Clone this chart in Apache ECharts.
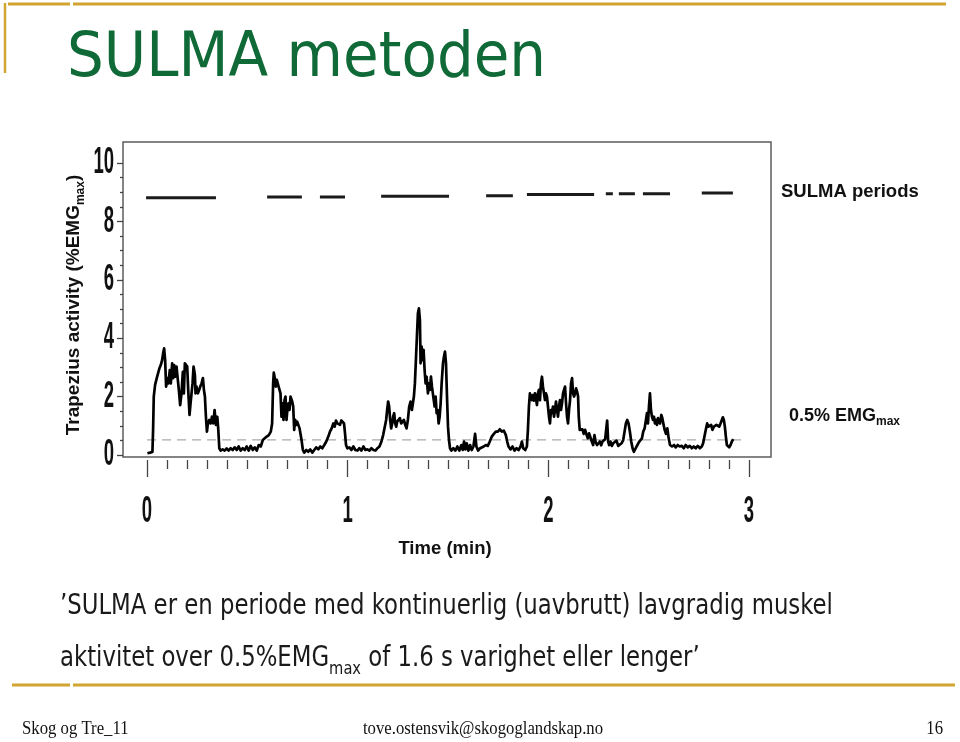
<!DOCTYPE html>
<html><head><meta charset="utf-8">
<script src="https://cdn.jsdelivr.net/npm/echarts@6/dist/echarts.min.js"></script>
<style>html,body{margin:0;padding:0;background:#fff;}#c{width:960px;height:742px;}</style>
</head><body><div id="c"></div>
<script>
// Trapezius activity trace: [time (s), activity (%EMGmax)]
const traceSamples = [
[0.1,0.06],[0.9,0.08],[1.6,0.10],[1.8,0.86],[2.0,2.00],[2.4,2.40],[2.9,2.63],[3.3,2.80],[3.7,2.97],[4.1,3.08],
[4.5,3.25],[4.8,3.48],[5.1,3.65],[5.4,3.25],[5.7,2.34],[6.0,2.63],[6.4,2.45],[6.8,2.91],[7.1,2.45],[7.5,3.14],
[7.8,2.63],[8.1,3.08],[8.5,2.68],[8.8,3.03],[9.1,2.68],[9.5,2.23],[9.9,1.71],[10.3,2.11],[10.7,2.85],[11.0,2.11],
[11.3,3.14],[11.7,3.20],[12.0,3.03],[12.3,2.23],[12.7,1.37],[13.0,1.77],[13.3,2.11],[13.6,2.45],[13.9,3.03],[14.3,2.74],
[14.5,2.11],[14.8,2.34],[15.2,2.11],[15.6,2.23],[15.9,2.34],[16.3,2.45],[16.7,2.63],[17.0,2.23],[17.3,2.00],[17.6,1.31],
[17.9,0.80],[18.2,1.08],[18.6,1.20],[19.0,1.08],[19.4,1.31],[19.8,1.08],[20.2,1.54],[20.6,1.03],[21.0,1.31],[21.3,0.86],
[21.6,0.23],[22.0,0.15],[22.6,0.19],[23.2,0.15],[23.8,0.22],[24.4,0.15],[25.0,0.23],[25.6,0.17],[26.2,0.26],[26.8,0.17],
[27.4,0.29],[28.0,0.15],[28.6,0.23],[29.2,0.17],[29.8,0.29],[30.4,0.15],[31.0,0.31],[31.6,0.17],[32.2,0.26],[32.8,0.15],
[33.4,0.34],[34.0,0.29],[34.6,0.51],[35.2,0.57],[35.8,0.63],[36.4,0.68],[37.0,0.80],[37.4,1.08],[37.7,2.45],[37.9,2.82],
[38.2,2.63],[38.5,2.34],[38.8,2.57],[39.2,2.40],[39.6,2.45],[39.9,2.11],[40.2,1.31],[40.5,1.77],[40.8,1.20],[41.1,1.88],
[41.4,2.00],[41.7,1.20],[42.0,1.60],[42.3,1.77],[42.6,1.54],[42.9,2.00],[43.1,2.05],[43.4,1.83],[43.7,1.66],[44.0,0.86],
[44.3,1.20],[44.6,1.03],[44.9,1.14],[45.3,1.20],[45.6,0.91],[45.9,0.97],[46.2,0.51],[46.6,0.17],[47.0,0.08],[47.6,0.17],
[48.2,0.11],[48.8,0.19],[49.4,0.08],[50.0,0.17],[50.6,0.26],[51.2,0.19],[51.8,0.29],[52.4,0.23],[53.0,0.34],[53.6,0.46],
[54.2,0.63],[54.7,0.80],[55.2,0.91],[55.7,1.08],[56.1,0.97],[56.5,1.18],[56.9,1.08],[57.3,1.14],[57.7,1.03],[58.1,1.18],
[58.5,1.22],[58.9,1.08],[59.2,0.74],[59.5,0.34],[59.9,0.23],[60.5,0.26],[61.1,0.17],[61.7,0.29],[62.3,0.17],[62.9,0.15],
[63.5,0.23],[64.1,0.15],[64.7,0.29],[65.3,0.17],[65.9,0.19],[66.5,0.15],[67.1,0.23],[67.7,0.17],[68.3,0.15],[68.9,0.23],
[69.5,0.29],[70.1,0.46],[70.6,0.68],[71.1,0.97],[71.5,1.20],[71.8,1.54],[72.1,1.83],[72.4,1.66],[72.7,1.20],[73.0,0.91],
[73.3,1.08],[73.6,1.31],[73.9,1.43],[74.2,1.08],[74.5,0.97],[74.8,1.14],[75.2,1.08],[75.6,1.26],[76.0,1.08],[76.4,1.14],
[76.8,1.20],[77.2,1.03],[77.6,0.91],[78.0,1.20],[78.4,1.66],[78.8,1.83],[79.2,1.54],[79.5,1.77],[79.8,2.00],[80.1,2.45],
[80.4,3.25],[80.7,4.05],[81.0,4.85],[81.3,5.02],[81.6,4.62],[81.8,3.14],[82.1,3.71],[82.4,3.25],[82.7,3.60],[83.0,2.91],
[83.3,2.45],[83.6,2.68],[84.0,2.11],[84.3,2.45],[84.6,2.23],[84.9,2.68],[85.2,2.34],[85.6,2.00],[86.0,1.66],[86.3,2.00],
[86.6,1.43],[86.9,1.54],[87.2,1.08],[87.5,1.31],[87.8,1.77],[88.1,2.45],[88.5,3.14],[88.8,3.37],[89.1,3.54],[89.4,3.14],
[89.7,2.00],[90.0,0.97],[90.3,0.51],[90.6,0.23],[91.0,0.15],[91.6,0.23],[92.2,0.15],[92.8,0.29],[93.4,0.15],[94.0,0.34],
[94.4,0.17],[94.8,0.46],[95.2,0.19],[95.6,0.40],[96.1,0.15],[96.6,0.34],[97.1,0.17],[97.6,0.29],[98.1,0.72],[98.5,0.29],
[99.0,0.15],[99.6,0.23],[100.1,0.19],[100.7,0.29],[101.3,0.34],[101.9,0.31],[102.5,0.46],[103.1,0.63],[103.7,0.72],[104.3,0.80],
[104.9,0.80],[105.5,0.88],[106.1,0.80],[106.7,0.83],[107.3,0.68],[107.7,0.46],[108.1,0.29],[108.7,0.19],[109.3,0.29],[109.9,0.15],
[110.5,0.23],[111.1,0.17],[111.7,0.29],[112.1,0.46],[112.5,0.23],[113.1,0.17],[113.6,0.29],[113.9,0.86],[114.2,1.66],[114.5,2.11],
[114.8,2.00],[115.1,1.88],[115.4,2.05],[115.7,1.86],[116.0,2.11],[116.3,1.94],[116.6,1.71],[116.9,2.11],[117.2,2.23],[117.5,1.88],
[117.8,2.45],[118.1,2.68],[118.4,2.34],[118.7,2.11],[119.0,1.88],[119.3,2.11],[119.6,2.00],[119.9,1.66],[120.2,1.31],[120.5,1.08],
[120.8,1.54],[121.1,1.43],[121.4,1.66],[121.7,1.31],[122.0,1.54],[122.3,1.83],[122.6,1.54],[122.9,1.31],[123.2,1.66],[123.5,1.88],
[123.8,1.54],[124.1,1.77],[124.4,2.11],[124.7,2.23],[125.0,2.34],[125.3,1.77],[125.6,1.31],[125.9,1.08],[126.2,1.54],[126.5,1.88],
[126.8,2.45],[127.1,2.63],[127.4,2.11],[127.7,2.00],[128.0,2.11],[128.3,2.28],[128.6,2.17],[128.9,2.00],[129.1,1.31],[129.4,0.86],
[129.8,0.80],[130.2,0.88],[130.6,0.72],[131.0,0.86],[131.4,0.80],[131.8,0.57],[132.2,0.74],[132.6,0.68],[133.0,0.46],[133.4,0.34],
[133.8,0.68],[134.2,0.42],[134.6,0.34],[135.0,0.31],[135.4,0.46],[135.8,0.33],[136.2,0.46],[136.6,0.40],[137.0,0.54],[137.3,0.86],
[137.6,1.18],[137.9,0.46],[138.2,0.34],[138.6,0.46],[139.0,0.31],[139.4,0.40],[139.9,0.34],[140.4,0.49],[140.9,0.31],[141.4,0.29],
[141.9,0.40],[142.4,0.51],[142.8,0.80],[143.2,1.08],[143.6,1.20],[144.0,1.08],[144.4,0.80],[144.8,0.46],[145.2,0.23],[145.6,0.11],
[146.0,0.17],[146.4,0.29],[146.8,0.34],[147.2,0.46],[147.6,0.40],[148.0,0.57],[148.4,0.80],[148.8,0.91],[149.2,1.20],[149.5,1.43],
[149.8,1.08],[150.1,1.66],[150.4,2.11],[150.7,1.54],[151.0,1.31],[151.3,1.20],[151.6,1.31],[151.9,1.08],[152.2,1.20],[152.5,1.03],
[152.8,1.26],[153.1,1.20],[153.4,1.08],[153.8,1.37],[154.1,1.26],[154.4,1.08],[154.8,0.86],[155.2,0.72],[155.6,0.91],[156.0,0.57],
[156.4,0.34],[157.0,0.29],[157.6,0.34],[158.1,0.26],[158.7,0.34],[159.3,0.29],[159.9,0.31],[160.5,0.23],[161.1,0.34],[161.7,0.26],
[162.3,0.31],[162.9,0.23],[163.5,0.29],[164.1,0.23],[164.7,0.31],[165.3,0.23],[165.9,0.29],[166.3,0.40],[166.7,0.63],[167.1,0.86],
[167.5,1.08],[167.9,0.97],[168.3,0.91],[168.7,1.03],[169.1,0.86],[169.5,0.97],[169.9,0.91],[170.3,1.03],[170.7,1.08],[171.1,0.97],
[171.5,1.08],[171.9,1.20],[172.2,1.29],[172.5,1.20],[172.8,0.97],[173.1,0.63],[173.4,0.34],[173.7,0.29],[174.1,0.26],[174.5,0.34],
[174.9,0.46],[175.3,0.54]
];
// SULMA periods (seconds) and their drawn level
const periodStart = [-0.3, 35.9, 51.7, 70.0, 101.4, 113.6, 137.2, 141.1, 148.3, 165.9];
const periodEnd   = [20.6, 46.3, 59.2, 90.3, 109.4, 133.7, 139.3, 145.9, 156.4, 175.2];
const periodLevel = [8.81, 8.84, 8.84, 8.86, 8.88, 8.92, 8.95, 8.95, 8.95, 8.97];
// 0.5 %EMGmax threshold line
const thresholdLevel = 0.52;
const thresholdSpan = [0, 178.8];
// axes tick labels
const timeLabelMinutes = [0, 1, 2, 3];
const yTickValues = [0, 2, 4, 6, 8, 10];
const secPerMin = 60;

const chart = echarts.init(document.getElementById('c'), null, {renderer: 'canvas', width: 960, height: 742});
const sans = "'Liberation Sans',Arial,sans-serif";
const cond = "'DejaVu Sans Condensed',sans-serif";
const gold = '#d2a430';

const series = [
  {type: 'line', xAxisIndex: 0, yAxisIndex: 0, symbol: 'none', silent: true, z: 2,
   data: [[thresholdSpan[0], thresholdLevel], [thresholdSpan[1], thresholdLevel]],
   lineStyle: {color: '#a9a9a9', width: 1.3, type: [9, 6]}},
  {type: 'line', xAxisIndex: 0, yAxisIndex: 0, symbol: 'none', silent: true, z: 3,
   data: traceSamples, lineStyle: {color: '#000', width: 2.7, join: 'round'}}
];
periodStart.forEach((s, i) => {
  series.push({type: 'line', xAxisIndex: 0, yAxisIndex: 0, symbol: 'none', silent: true, z: 3,
    data: [[s, periodLevel[i]], [periodEnd[i], periodLevel[i]]],
    lineStyle: {color: '#1b1b1b', width: 3}});
});

function txt(x, y, text, style, extra) {
  return Object.assign({type: 'text', x: x, y: y, silent: true,
    style: Object.assign({text: text, fill: '#111'}, style)}, extra || {});
}
const L = {align: 'left', textAlign: 'left', verticalAlign: 'middle', textVerticalAlign: 'middle'};
const C = {align: 'center', textAlign: 'center', verticalAlign: 'middle', textVerticalAlign: 'middle'};
const R = {align: 'right', textAlign: 'right', verticalAlign: 'middle', textVerticalAlign: 'middle'};

const baseGraphics = [
  // slide decoration lines
  {type: 'line', silent: true, shape: {x1: 8, y1: 4, x2: 70, y2: 4}, style: {stroke: gold, lineWidth: 3}},
  {type: 'line', silent: true, shape: {x1: 73, y1: 4, x2: 946, y2: 4}, style: {stroke: gold, lineWidth: 3}},
  {type: 'line', silent: true, shape: {x1: 5, y1: 3, x2: 5, y2: 73}, style: {stroke: gold, lineWidth: 2.5}},
  {type: 'line', silent: true, shape: {x1: 12, y1: 685, x2: 70, y2: 685}, style: {stroke: gold, lineWidth: 3}},
  {type: 'line', silent: true, shape: {x1: 73, y1: 685, x2: 955, y2: 685}, style: {stroke: gold, lineWidth: 3}},
  // title
  txt(67, 60, 'SULMA metoden', Object.assign({fontSize: 63, fontFamily: "'DejaVu Sans',sans-serif", fill: '#0f6a37'}, L), {scaleX: 0.92}),
  // chart annotations
  txt(74, 305, '{a|Trapezius activity (%EMG}{b|max}{a|)}', Object.assign({
    rich: {a: {fontSize: 19, fontWeight: 'bold', fontFamily: sans, fill: '#111', color: '#111', lineHeight: 26, verticalAlign: 'middle'},
           b: {fontSize: 12, fontWeight: 'bold', fontFamily: sans, fill: '#111', color: '#111', verticalAlign: 'bottom'}}}, C),
    {rotation: Math.PI / 2}),
  txt(781, 192, 'SULMA periods', Object.assign({fontSize: 18.5, fontWeight: 'bold', fontFamily: sans}, L)),
  txt(789, 416, '{a|0.5% EMG}{b|max}', Object.assign({
    rich: {a: {fontSize: 18, fontWeight: 'bold', fontFamily: sans, fill: '#111', color: '#111', lineHeight: 24, verticalAlign: 'middle'},
           b: {fontSize: 12, fontWeight: 'bold', fontFamily: sans, fill: '#111', color: '#111', verticalAlign: 'bottom'}}}, L)),
  txt(445, 549, 'Time (min)', Object.assign({fontSize: 18.5, fontWeight: 'bold', fontFamily: sans}, C)),
  // body text
  txt(60, 607, '\u2019SULMA er en periode med kontinuerlig (uavbrutt) lavgradig muskel',
    Object.assign({fontSize: 28, fontFamily: cond, fill: '#1a1a1a'}, L), {scaleX: 0.905}),
  txt(60, 659, '{a|aktivitet over 0.5%EMG}{b|max}{a| of 1.6 s varighet eller lenger\u2019}', Object.assign({
    rich: {a: {fontSize: 28, fontFamily: cond, fill: '#1a1a1a', color: '#1a1a1a', lineHeight: 38, verticalAlign: 'middle'},
           b: {fontSize: 18, fontFamily: cond, fill: '#1a1a1a', color: '#1a1a1a', verticalAlign: 'bottom'}}}, L), {scaleX: 0.905}),
  // footer
  txt(22, 729, 'Skog og Tre_11', Object.assign({fontSize: 19, fontFamily: "'Liberation Serif',serif"}, L), {scaleX: 0.88}),
  txt(483, 729, 'tove.ostensvik@skogoglandskap.no', Object.assign({fontSize: 19, fontFamily: "'Liberation Serif',serif"}, C), {scaleX: 0.88}),
  txt(943, 729, '16', Object.assign({fontSize: 19, fontFamily: "'Liberation Serif',serif"}, R), {scaleX: 0.88})
];

const tickStyle = {color: '#444', width: 1.3};
const option = {
  animation: false,
  backgroundColor: '#fff',
  grid: [
    {left: 123, top: 142, width: 648, height: 315, show: true, borderColor: '#5c5c5c', borderWidth: 1.5, backgroundColor: 'transparent', outerBoundsMode: 'none'},
    {left: 147, top: 440, width: 602, height: 20, outerBoundsMode: 'none'},
    {left: 123, top: 163, width: 10, height: 292, outerBoundsMode: 'none'}
  ],
  xAxis: [
    {gridIndex: 0, type: 'value', min: -7.2, max: 186.6, show: false},
    {gridIndex: 1, type: 'value', min: timeLabelMinutes[0] * secPerMin, max: timeLabelMinutes[timeLabelMinutes.length - 1] * secPerMin,
     interval: secPerMin, axisLine: {show: false}, splitLine: {show: false},
     axisTick: {show: true, length: 17, lineStyle: tickStyle},
     minorTick: {show: true, splitNumber: 10, length: 9, lineStyle: tickStyle},
     axisLabel: {show: false}},
    {gridIndex: 2, type: 'value', min: 0, max: 1, show: false}
  ],
  yAxis: [
    {gridIndex: 0, type: 'value', min: -0.07, max: 10.72, show: false},
    {gridIndex: 1, type: 'value', min: 0, max: 1, show: false},
    {gridIndex: 2, type: 'value', position: 'left', min: yTickValues[0], max: yTickValues[yTickValues.length - 1],
     interval: yTickValues[1] - yTickValues[0],
     axisLine: {show: false}, splitLine: {show: false},
     axisTick: {show: true, length: 6, lineStyle: tickStyle},
     minorTick: {show: true, splitNumber: 4, length: 3, lineStyle: tickStyle},
     axisLabel: {show: false}}
  ],
  series: series,
  graphic: baseGraphics
};
chart.setOption(option);

// Narrow (condensed) tick labels placed through the axes' own scales
const digitStyle = {fontSize: 37, fontWeight: 'bold', fontFamily: sans, fill: '#111'};
const labelGraphics = [];
timeLabelMinutes.forEach(m => {
  const px = chart.convertToPixel({xAxisIndex: 1}, m * secPerMin);
  labelGraphics.push(txt(px, 512, String(m), Object.assign({}, digitStyle, C), {scaleX: 0.5}));
});
yTickValues.forEach(v => {
  const py = chart.convertToPixel({yAxisIndex: 2}, v);
  labelGraphics.push(txt(114, py, String(v), Object.assign({}, digitStyle, R), {scaleX: 0.5}));
});
chart.setOption({graphic: baseGraphics.concat(labelGraphics)});
</script>
</body></html>
